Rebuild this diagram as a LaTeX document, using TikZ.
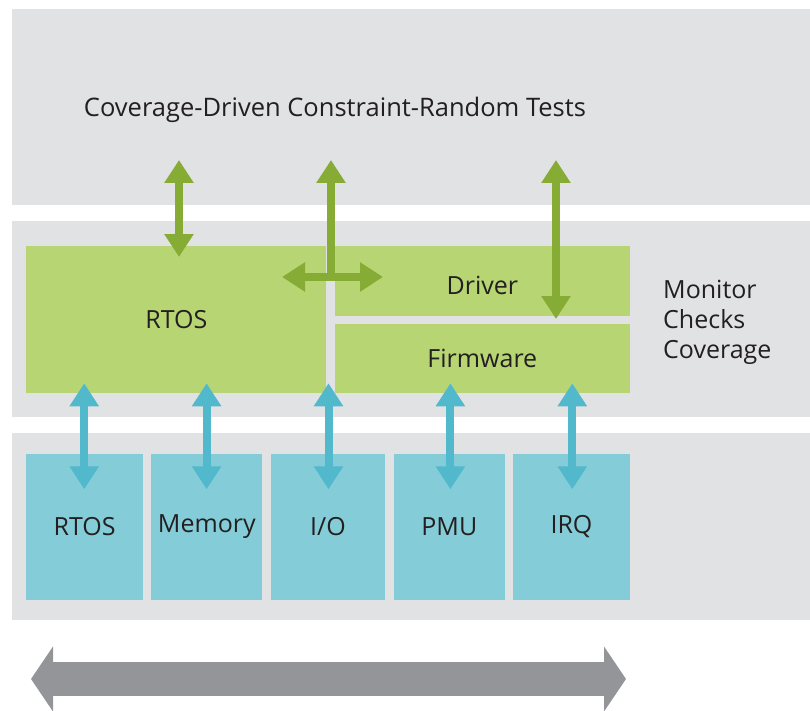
\documentclass[tikz,border=0pt]{standalone}
\usepackage{fontspec}
\setmainfont{Open Sans}
\usetikzlibrary{arrows.meta}
\definecolor{bandgrey}{HTML}{E1E2E4}
\definecolor{gbox}{HTML}{B8D574}
\definecolor{garr}{HTML}{86AC36}
\definecolor{cbox}{HTML}{84CDD8}
\definecolor{carr}{HTML}{52B9CC}
\definecolor{busgrey}{HTML}{939598}
\definecolor{txt}{HTML}{231F20}
\tikzset{
  gtip/.tip={Triangle[width=28pt,length=23pt]},
  btip/.tip={Triangle[width=64pt,length=22pt]},
  band/.style={fill=bandgrey, draw=none, inner sep=0pt, minimum width=798pt},
  greenbox/.style={fill=gbox, draw=none, inner sep=0pt, text=txt, font=\fontsize{25}{28}\selectfont},
  cyanbox/.style={fill=cbox, draw=none, inner sep=0pt, text=txt, font=\fontsize{25}{28}\selectfont},
  garrow/.style={draw=garr, line width=8pt},
  carrow/.style={draw=carr, line width=8pt, gtip-gtip},
  label/.style={text=txt, inner sep=0pt, font=\fontsize{25}{30}\selectfont}
}
\begin{document}
\begin{tikzpicture}[x=1pt,y=-1pt]
\useasboundingbox (0,0) rectangle (810,711);
% bands
\node[band, minimum height=196pt] (topband) at (411,107) {};
\node[band, minimum height=195.5pt] (midband) at (411,318.75) {};
\node[band, minimum height=186.5pt] (botband) at (411,526.25) {};
% top text
\node[label, font=\fontsize{25.5}{30}\selectfont] (tests) at (335,110) {Coverage-Driven Constraint-Random Tests};
% green boxes
\node[greenbox, minimum width=300pt, minimum height=146.5pt] (grtos) at (176.3,319.5) {RTOS};
\node[greenbox, minimum width=295.3pt, minimum height=69.4pt] (driver) at (482.35,281) {};
\node[label] (drivertext) at (482.35,285) {Driver};
\node[greenbox, minimum width=295.3pt, minimum height=68.7pt] (firmware) at (482.35,358.35) {Firmware};
% monitor text
\node[label, anchor=west, align=left] (monitor) at (663,322) {Monitor\\Checks\\Coverage};
% cyan boxes
\node[cyanbox, minimum width=116.7pt, minimum height=146.6pt] (crtos) at (84.7,527) {RTOS};
\node[cyanbox, minimum width=111.1pt, minimum height=146.6pt] (mem) at (206.85,527) {Memory};
\node[cyanbox, minimum width=114.6pt, minimum height=146.6pt] (io) at (328,527) {I/O};
\node[cyanbox, minimum width=110.6pt, minimum height=146.6pt] (pmu) at (449.3,527) {PMU};
\node[cyanbox, minimum width=117pt, minimum height=146.6pt] (irq) at (571.5,527) {IRQ};
% green arrow end points
\coordinate (g1t) at (179,160);
\coordinate (g1b) at (179,257);
\coordinate (g2t) at (331,160);
\coordinate (g2b) at (331,281);
\coordinate (hl) at (282,277);
\coordinate (hr) at (383,277);
\coordinate (g3t) at (556,160);
\coordinate (g3b) at (556,319);
\draw[garrow, gtip-gtip] (g1t) -- (g1b);
\draw[garrow, gtip-] (g2t) -- (g2b);
\draw[garrow, gtip-gtip] (hl) -- (hr);
\draw[garrow, gtip-gtip] (g3t) -- (g3b);
% cyan arrows
\foreach \n/\x in {c1/84.2, c2/206.6, c3/328.5, c4/450.4, c5/572.3}{
  \coordinate (\n t) at (\x,383.3);
  \coordinate (\n b) at (\x,489.3);
  \draw[carrow] (\n t) -- (\n b);
}
% bottom bus arrow
\coordinate (busl) at (31,679);
\coordinate (busr) at (626,679);
\draw[draw=busgrey, line width=34pt, btip-btip] (busl) -- (busr);
\end{tikzpicture}
\end{document}
